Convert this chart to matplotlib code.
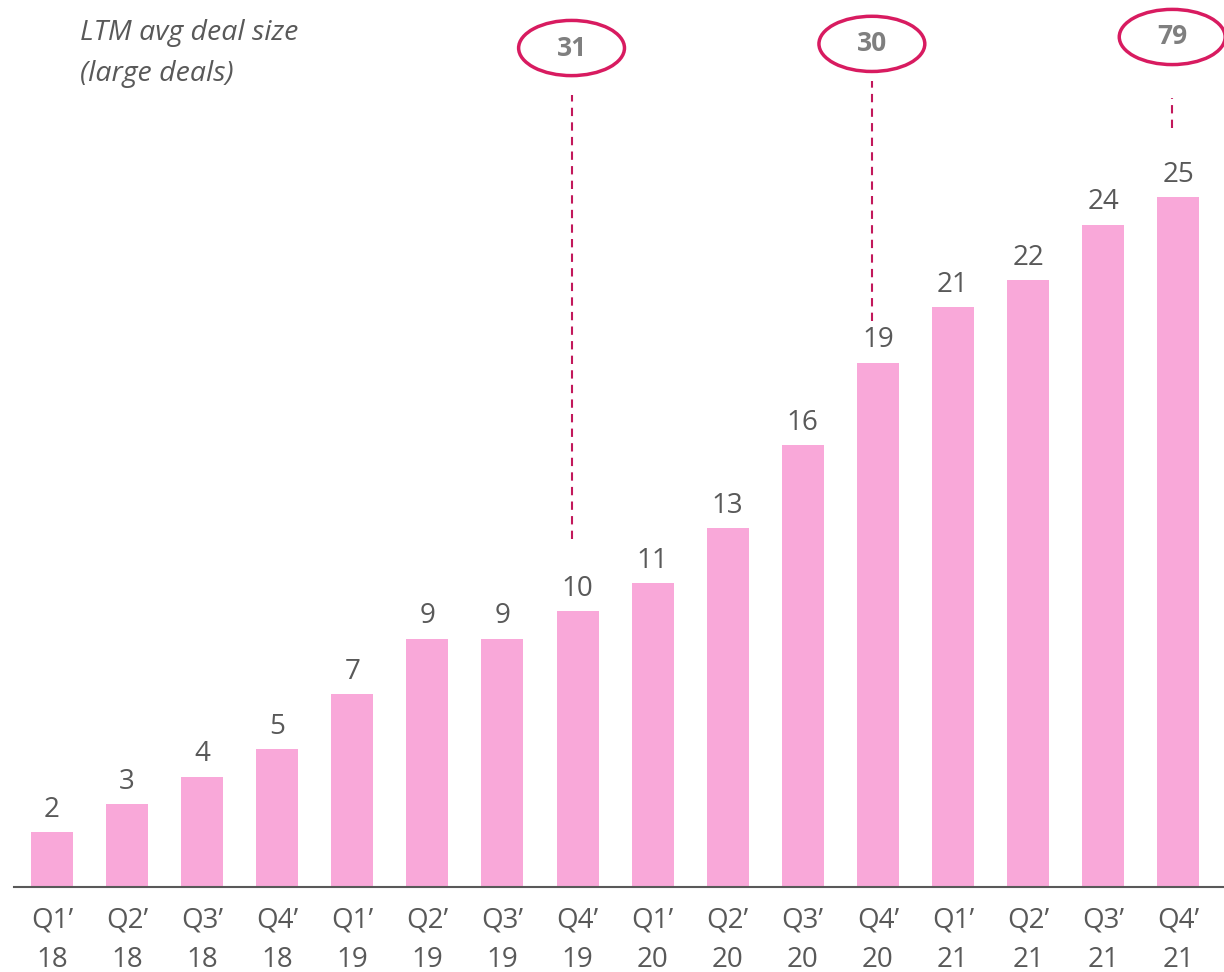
import matplotlib
matplotlib.use("agg")
import matplotlib.pyplot as plt
from matplotlib.patches import Ellipse

plt.rcParams['font.family'] = ['Open Sans', 'DejaVu Sans']

# data
quarters = ["Q1’", "Q2’", "Q3’", "Q4’"] * 4
years = ["18"] * 4 + ["19"] * 4 + ["20"] * 4 + ["21"] * 4
values = [2, 3, 4, 5, 7, 9, 9, 10, 11, 13, 16, 19, 21, 22, 24, 25]
# callouts: bar index -> large deal count
callout_idx = [7, 11, 15]
callout_vals = [31, 30, 79]

BAR = "#F9A8D9"
TEXT = "#595959"
RED = "#D81B60"

fig = plt.figure(figsize=(12.24, 9.72), dpi=100)
ax = fig.add_axes([14 / 1224, 85 / 972, 1 - 14 / 1224, 887 / 972])

x = list(range(len(values)))
ax.bar(x, values, width=0.56, color=BAR, zorder=2)
for xi, v in zip(x, values):
    ax.text(xi, v + 0.3, str(v), ha="center", va="bottom", fontsize=20, color=TEXT)

ax.set_xlim(-0.506, 15.61)
ax.set_ylim(0, 32.14)
for s in ["top", "right", "left"]:
    ax.spines[s].set_visible(False)
ax.spines["bottom"].set_color("#595959")
ax.spines["bottom"].set_linewidth(1.5)
ax.set_yticks([])
ax.set_xticks(x)
ax.set_xticklabels([q + "\n" + y for q, y in zip(quarters, years)],
                   fontsize=20, color=TEXT, linespacing=1.55)
ax.tick_params(axis="x", length=0, pad=14)

# callout ellipses with dashed leaders
ell_y = [30.4, 30.55, 30.8]
line_top = [28.7, 29.2, 28.6]
line_bot = [12.6, 20.5, 27.5]
for i, (bi, cv) in enumerate(zip(callout_idx, callout_vals)):
    cx = bi - 0.08
    ax.add_patch(Ellipse((cx, ell_y[i]), 1.41, 2.0, fill=False, edgecolor=RED,
                         linewidth=2.5, clip_on=False, zorder=3))
    ax.text(cx, ell_y[i], str(cv), ha="center", va="center", fontsize=19,
            fontweight="bold", color="#7F7F7F")
    ax.plot([cx, cx], [line_bot[i], line_top[i]], color="#C2185B",
            linestyle=(0, (4, 3)), linewidth=1.5, clip_on=False)

fig.text(80 / 1224, 1 - 19 / 972, "LTM avg deal size\n(large deals)", ha="left", va="top",
         fontsize=20.5, style="italic", color=TEXT, linespacing=1.6)
fig.savefig("out.png", dpi=100)
